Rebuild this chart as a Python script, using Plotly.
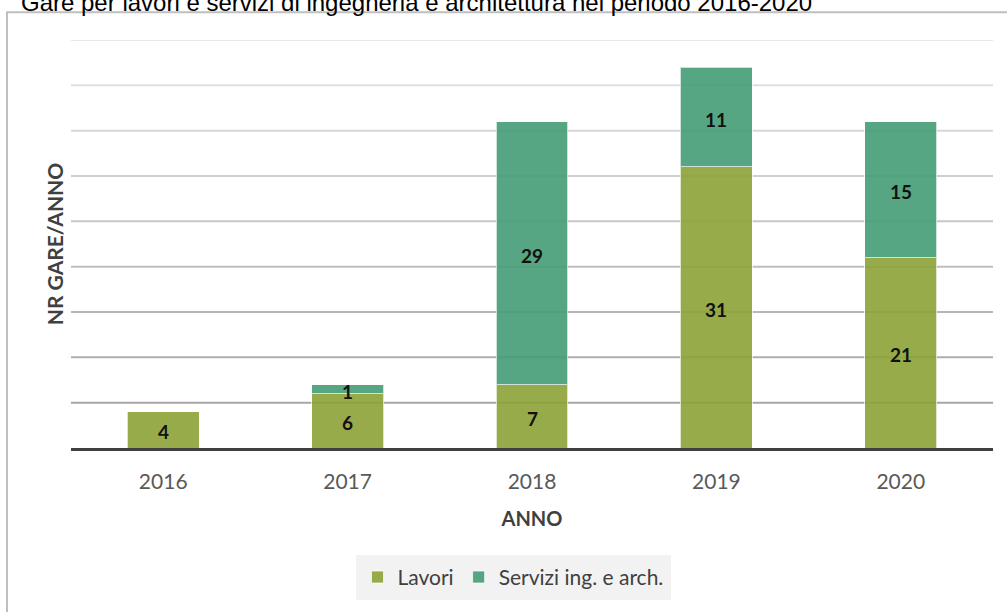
import plotly.graph_objects as go

years = ["2016", "2017", "2018", "2019", "2020"]
lavori = [4, 6, 7, 31, 21]
servizi = [None, 1, 29, 11, 15]
grid_values = [5, 10, 15, 20, 25, 30, 35, 40, 45]

series_names = ["Lavori", "Servizi ing. e arch."]
title_text = "Gare per lavori e servizi di ingegneria e architettura nel periodo 2016-2020"

W, H = 1007, 612
L, R, T, B = 71, 14, 40, 161
pw, ph = W - L - R, H - T - B

col_lav = "rgba(140,162,54,0.9)"
col_ser = "rgba(69,156,117,0.9)"
lab_font = dict(size=19, color="#111111", family="Lato, Open Sans, sans-serif")

fig = go.Figure()
fig.add_trace(go.Bar(x=years, y=lavori, name=series_names[0], marker=dict(color=col_lav, line=dict(color="rgba(255,255,255,0.7)", width=1)), width=0.39))
fig.add_trace(go.Bar(x=years, y=servizi, name=series_names[1], marker=dict(color=col_ser, line=dict(color="rgba(255,255,255,0.7)", width=1)), width=0.39))

shapes = []
n = len(grid_values)
for i, gv in enumerate(grid_values):
    t = i / (n - 1)
    c = int(166 + (232 - 166) * t)
    shapes.append(dict(type="line", xref="paper", yref="y", x0=0, x1=1, y0=gv, y1=gv,
                       line=dict(color=f"rgb({c},{c},{c})", width=2), layer="below"))
# outer border
shapes.append(dict(type="rect", xref="paper", yref="paper",
                   x0=(7 - L) / pw, x1=(W + 20 - L) / pw,
                   y0=-(H + 20 - T - ph) / ph, y1=1 + (T - 12) / ph,
                   line=dict(color="#bfbfbf", width=2), fillcolor="rgba(0,0,0,0)", layer="below"))

annotations = []
for i, yr in enumerate(years):
    lv = lavori[i]
    if lv:
        annotations.append(dict(x=i, y=lv / 2, text=f"<b>{lv}</b>", showarrow=False,
                                font=lab_font, yshift=-2))
    sv = servizi[i]
    if sv:
        annotations.append(dict(x=i, y=lv + sv / 2, text=f"<b>{sv}</b>", showarrow=False,
                                font=lab_font, yshift=-2))
annotations.append(dict(xref="paper", yref="paper", x=(19 - L) / pw, y=1 + (T - 18) / ph,
                        xanchor="left", yanchor="bottom", text=title_text, showarrow=False,
                        font=dict(size=24, color="#000000", family="Liberation Sans, Arial, sans-serif")))

fig.update_layout(
    width=W, height=H,
    margin=dict(l=L, r=R, t=T, b=B),
    barmode="stack",
    paper_bgcolor="white", plot_bgcolor="white",
    font=dict(family="Lato, Open Sans, sans-serif", color="#595959"),
    shapes=shapes, annotations=annotations,
    showlegend=True,
    legend=dict(orientation="h", x=(513 - L) / pw, xanchor="center", y=-(604 - T - ph) / ph, yanchor="bottom",
                bgcolor="#f2f2f2", font=dict(size=21, color="#404040"),
                traceorder="normal", borderwidth=2, bordercolor="#f2f2f2"),
    xaxis=dict(type="category", range=[-0.5, 4.5], autorange=False, showgrid=False, showline=True,
               linecolor="#404040", linewidth=3,
               ticks="", tickfont=dict(size=21, color="#595959"), ticklabelstandoff=13,
               title=dict(text="<b>ANNO</b>", font=dict(size=20, color="#404040"), standoff=20)),
    yaxis=dict(range=[0, 45], autorange=False, showgrid=False, showticklabels=False, zeroline=False, ticks="",
               title=dict(text="<b>NR GARE/ANNO</b>", font=dict(size=21, color="#404040"), standoff=0)),
)

fig.write_html("out.html", config={"displayModeBar": False},
               post_script="document.body.style.margin='0';")
